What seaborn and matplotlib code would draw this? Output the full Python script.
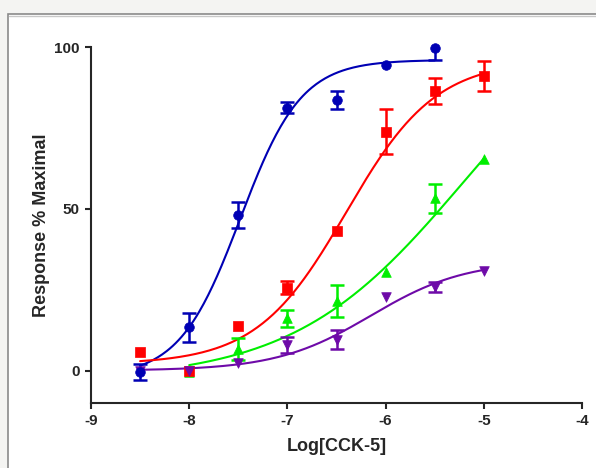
import numpy as np
import pandas as pd
import matplotlib
matplotlib.use("Agg")
import matplotlib.pyplot as plt
from matplotlib.patches import Rectangle
import seaborn as sns

# ── data ─────────────────────────────────────────────────
LOG_DOSE = [-8.5, -8.0, -7.5, -7.0, -6.5, -6.0, -5.5, -5.0]

blue_x   = [-8.5, -8.0, -7.5, -7.0, -6.5, -6.0, -5.5]
blue_y   = [-0.3, 13.4, 48.2, 81.3, 83.6, 94.5, 99.6]
blue_err = [2.5, 4.4, 4.0, 1.7, 2.8, 0.0, 3.5]

red_x    = LOG_DOSE
red_y    = [5.9, 0.0, 13.9, 25.6, 43.3, 73.8, 86.4, 91.0]
red_err  = [0.0, 0.0, 0.0, 2.0, 0.0, 7.0, 4.0, 4.6]

green_x   = LOG_DOSE[1:]
green_y   = [-0.3, 6.8, 16.2, 21.6, 30.6, 53.2, 65.4]
green_err = [0.0, 3.4, 2.6, 4.9, 0.0, 4.5, 0.0]

purple_x   = LOG_DOSE
purple_y   = [-0.2, 0.0, 2.4, 7.9, 9.6, 22.8, 25.8, 30.9]
purple_err = [0.0, 0.0, 0.0, 2.5, 3.0, 0.0, 1.6, 0.0]

# fitted 4PL curves: bottom, top, logEC50, hill, x range
fit_params = {
    'blue':   (-2.0, 96.0, -7.48, 1.4, -8.5, -5.5),
    'red':    (2.0, 96.0, -6.40, 0.95, -8.5, -5.0),
    'green':  (-3.0, 120.0, -5.20, 0.5, -8.0, -5.0),
    'purple': (0.0, 34.0, -6.15, 0.9, -8.5, -5.0),
}

COLORS = {'blue': '#0000b4', 'red': '#ff0000', 'green': '#00ee00', 'purple': '#6e0aa8'}
MARKERS = {'blue': 'o', 'red': 's', 'green': '^', 'purple': 'v'}

series = {
    'blue': (blue_x, blue_y, blue_err),
    'red': (red_x, red_y, red_err),
    'green': (green_x, green_y, green_err),
    'purple': (purple_x, purple_y, purple_err),
}

# ── figure ───────────────────────────────────────────────
sns.set_style('ticks')
plt.rcParams['font.family'] = ['Liberation Sans', 'DejaVu Sans']
plt.rcParams['font.weight'] = 'bold'
plt.rcParams['axes.unicode_minus'] = False

fig = plt.figure(figsize=(5.96, 4.68), dpi=100, facecolor='#f4f4f2')
# white panel with a thin grey frame, as in the screenshot
panel = Rectangle((8 / 596, -0.01), 1.0, (468 - 14) / 468 + 0.01,
                  transform=fig.transFigure, facecolor='white',
                  edgecolor='#8a8a8a', linewidth=1.2, zorder=-10)
fig.add_artist(panel)
fig.add_artist(plt.Line2D([9 / 596, 1.0], [1 - 16 / 468] * 2, transform=fig.transFigure,
                          color='#c8c8c8', linewidth=1.0, zorder=-9))
ax = fig.add_axes([91 / 596, 65 / 468, 491 / 596, 356 / 468])
ax.set_facecolor('none')

curve_rows = []
for name, (bot, top, ec50, hill, x0, x1) in fit_params.items():
    xs = np.linspace(x0, x1, 200)
    ys = bot + (top - bot) / (1 + 10 ** ((ec50 - xs) * hill))
    curve_rows.append(pd.DataFrame({'x': xs, 'y': ys, 'series': name}))
curves = pd.concat(curve_rows, ignore_index=True)

sns.lineplot(data=curves, x='x', y='y', hue='series', palette=COLORS,
             linewidth=1.5, legend=False, ax=ax, sort=False)

order = ['green', 'red', 'purple', 'blue']
for name in order:
    xs, ys, es = series[name]
    pts = pd.DataFrame({'x': xs, 'y': ys, 'err': es})
    bars = pts[pts['err'] > 0]
    ax.errorbar(bars['x'], bars['y'], yerr=bars['err'], fmt='none',
                ecolor=COLORS[name], elinewidth=1.8, capsize=5, capthick=1.8, zorder=3)
    sns.scatterplot(data=pts, x='x', y='y', color=COLORS[name],
                    marker=MARKERS[name], s=48, edgecolor=COLORS[name],
                    linewidth=0.5, ax=ax, zorder=4, clip_on=False)

ax.set_xlim(-9, -4)
ax.set_ylim(-10, 100)
ax.set_xticks([-9, -8, -7, -6, -5, -4])
ax.set_yticks([0, 50, 100])
ax.tick_params(direction='out', length=4, width=1.5, labelsize=11, pad=4)
for lab in ax.get_xticklabels() + ax.get_yticklabels():
    lab.set_fontweight('bold')
for sp in ('top', 'right'):
    ax.spines[sp].set_visible(False)
for sp in ('left', 'bottom'):
    ax.spines[sp].set_linewidth(1.5)

ax.set_xlabel('Log[CCK-5]', fontsize=13, fontweight='bold', labelpad=7)
ax.set_ylabel('Response % Maximal', fontsize=13, fontweight='bold', labelpad=3)

fig.savefig('out.png', dpi=100, facecolor=fig.get_facecolor())
